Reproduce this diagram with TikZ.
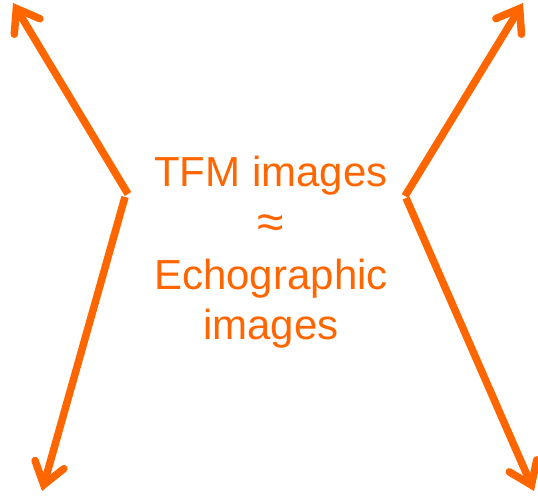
\documentclass[tikz,border=0pt]{standalone}
\usepackage{fontspec}
\setmainfont{Liberation Sans}
\usetikzlibrary{arrows.meta}
\definecolor{arrorange}{HTML}{FF6600}
\tikzset{
  bigarrow/.style={draw=arrorange, line width=7.5pt, line cap=butt,
    -{Straight Barb[length=21pt, width=30pt, line cap=round, line join=miter]}},
  label/.style={text=arrorange, font=\fontsize{42pt}{48pt}\selectfont, anchor=base, inner sep=0pt}
}
\begin{document}
\begin{tikzpicture}[x=1pt,y=-1pt]
\useasboundingbox (0,0) rectangle (538,497);
% vertices and tips
\coordinate (lv1) at (128,194);
\coordinate (lv2) at (125,197);
\coordinate (rv1) at (405,196);
\coordinate (rv2) at (406,198);
\coordinate (tl) at (13,3);
\coordinate (bl) at (42,491);
\coordinate (tr) at (523,3);
\coordinate (br) at (534,491);
\draw[bigarrow] (lv1) -- (tl);
\draw[bigarrow] (lv2) -- (bl);
\draw[bigarrow] (rv1) -- (tr);
\draw[bigarrow] (rv2) -- (br);
% text
\node[label] (t1) at (271,187) {TFM images};
\node[label, font=\fontsize{48pt}{48pt}\selectfont] (t2) at (271,238) {≈};
\node[label] (t3) at (271,289) {Echographic};
\node[label] (t4) at (271,339) {images};
\end{tikzpicture}
\end{document}
